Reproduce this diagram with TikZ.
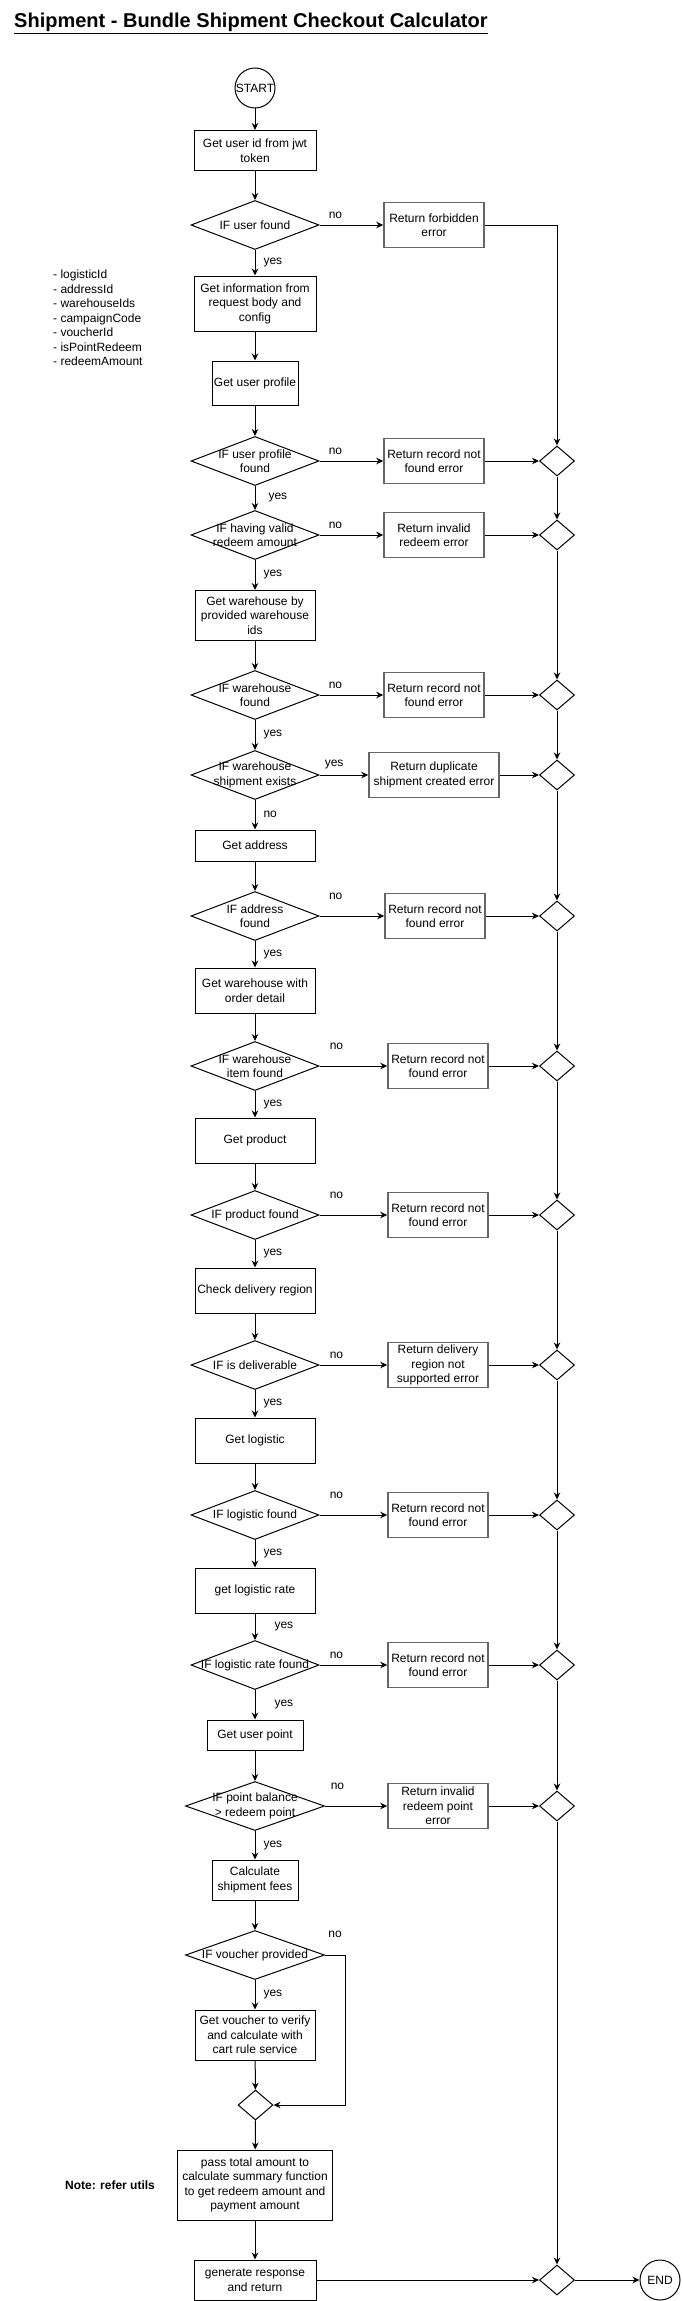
\documentclass[tikz,border=0pt]{standalone}
\usepackage{fontspec}
\setmainfont{Liberation Sans}
\usetikzlibrary{positioning,shapes.geometric,arrows.meta}

\begin{document}
\begin{tikzpicture}[
                x=1pt, y=-1pt,
                >={Stealth[length=7pt,width=6.5pt]},
                txt/.style={font=\fontsize{12}{14.5}\selectfont, align=center, inner sep=1pt},
                block/.style={txt, rectangle, draw=black, line width=1pt, minimum width=120pt, minimum height=45pt},
                errbox/.style={txt, rectangle, draw=black!60, line width=1.5pt, minimum width=100pt, minimum height=45pt},
                decision/.style={diamond, draw=black, line width=1pt, inner sep=0pt, minimum width=128pt, minimum height=49pt},
                merge/.style={diamond, draw=black, line width=1pt, inner sep=0pt, minimum width=35pt, minimum height=30pt},
                terminal/.style={txt, circle, draw=black, line width=1pt, inner sep=0pt, minimum size=40pt},
                line/.style={->, line width=1pt},
                lbl/.style={font=\fontsize{12}{14.5}\selectfont, inner sep=0pt},
                yeslbl/.style={lbl, midway, right=8pt},
                nolbl/.style={lbl, pos=0.25, above=6pt},
                every label/.style={txt}
            ]

            \useasboundingbox (0,0) rectangle (681,2301);

            %title and notes
            \node[anchor=base west, inner sep=0pt, font=\fontsize{20}{24}\selectfont\bfseries] (title) at (14,28)
                {\underline{Shipment - Bundle Shipment Checkout Calculator}};
            \node[lbl, align=left, anchor=north west] (params) at (53,270)
                {- logisticId\\- addressId\\- warehouseIds\\- campaignCode\\- voucherId\\- isPointRedeem\\- redeemAmount};
            \node[lbl, font=\fontsize{12}{14.5}\selectfont\bfseries] (note) at (110,2185) {Note: refer utils};

            %main column
            \node[terminal]     (start)       at (255,88)     {START};
            \node[block, minimum width=122pt, minimum height=40pt] (getUid) at (255,150.5) {Get user id from jwt\\token};
            \node[decision, label=center:{IF user found}] (ifUser) at (255,225) {};
            \node[block, minimum width=122pt, minimum height=55pt] (getInfo) at (255,303.5) {Get information from\\request body and\\config};
            \node[block, minimum width=86pt, minimum height=44pt] (getProfile) at (255,383) {Get user profile};
            \node[decision, label=center:{IF user profile\\found}] (ifProfile) at (255,461) {};
            \node[decision, label=center:{IF having valid\\redeem amount}] (ifRedeem) at (255,535) {};
            \node[block, minimum height=50pt] (getWh) at (255,615.5) {Get warehouse by\\provided warehouse\\ids};
            \node[decision, label=center:{IF warehouse\\found}] (ifWh) at (255,695) {};
            \node[decision, label=center:{IF warehouse\\shipment exists}] (ifExists) at (255,775) {};
            \node[block, minimum height=31pt] (getAddr) at (255,845.5) {Get address};
            \node[decision, label=center:{IF address\\found}] (ifAddr) at (255,916) {};
            \node[block] (getWhOrder) at (255,990.5) {Get warehouse with\\order detail};
            \node[decision, label=center:{IF warehouse\\item found}] (ifItem) at (255,1066) {};
            \node[block] (getProduct) at (255,1140.5) {Get product};
            \node[decision, label=center:{IF product found}] (ifProduct) at (255,1215) {};
            \node[block] (checkRegion) at (255,1290.5) {Check delivery region};
            \node[decision, label=center:{IF is deliverable}] (ifDeliver) at (255,1365) {};
            \node[block] (getLogistic) at (255,1440.5) {Get logistic};
            \node[decision, label=center:{IF logistic found}] (ifLogistic) at (255,1515) {};
            \node[block] (getRate) at (255,1590.5) {get logistic rate};
            \node[decision, label=center:{IF logistic rate found}] (ifRate) at (255,1665) {};
            \node[block, minimum width=96pt, minimum height=30pt] (getPoint) at (255,1735) {Get user point};
            \node[decision, minimum width=139pt, label=center:{IF point balance\\> redeem point}] (ifPoint) at (255,1806) {};
            \node[block, minimum width=86pt, minimum height=40pt] (calcFees) at (255,1880) {Calculate\\shipment fees};
            \node[decision, minimum width=139pt, label=center:{IF voucher provided}] (ifVoucher) at (255,1955) {};
            \node[block, minimum height=50pt] (getVoucher) at (255,2035) {Get voucher to verify\\and calculate with\\cart rule service};
            \node[merge]        (mergeV)      at (255.5,2105) {};
            \node[block, minimum width=155pt, minimum height=70pt] (passTotal) at (255,2185)
                {pass total amount to\\calculate summary function\\to get redeem amount and\\payment amount};
            \node[block, minimum width=122pt, minimum height=40pt] (genResp) at (255,2280) {generate response\\and return};

            %error returns
            \node[errbox]       (errForbid)   at (434,225)    {Return forbidden\\error};
            \node[errbox]       (errProfile)  at (434,461)    {Return record not\\found error};
            \node[errbox]       (errRedeem)   at (434,535)    {Return invalid\\redeem error};
            \node[errbox]       (errWh)       at (434,695)    {Return record not\\found error};
            \node[errbox, minimum width=130pt] (errDup) at (434,775) {Return duplicate\\shipment created error};
            \node[errbox]       (errAddr)     at (435,916)    {Return record not\\found error};
            \node[errbox]       (errItem)     at (438,1066)   {Return record not\\found error};
            \node[errbox]       (errProduct)  at (438,1215)   {Return record not\\found error};
            \node[errbox]       (errDeliver)  at (438,1365)   {Return delivery\\region not\\supported error};
            \node[errbox]       (errLogistic) at (438,1515)   {Return record not\\found error};
            \node[errbox]       (errRate)     at (438,1665)   {Return record not\\found error};
            \node[errbox]       (errPoint)    at (438,1806)   {Return invalid\\redeem point\\error};

            %merges
            \node[merge] (m1)  at (557,461)  {};
            \node[merge] (m2)  at (557,535)  {};
            \node[merge] (m3)  at (557,695)  {};
            \node[merge] (m4)  at (557,775)  {};
            \node[merge] (m5)  at (557,916)  {};
            \node[merge] (m6)  at (557,1066) {};
            \node[merge] (m7)  at (557,1215) {};
            \node[merge] (m8)  at (557,1365) {};
            \node[merge] (m9)  at (557,1515) {};
            \node[merge] (m10) at (557,1665) {};
            \node[merge] (m11) at (557,1806) {};
            \node[merge] (m12) at (557,2280) {};
            \node[terminal] (end) at (660,2280) {END};

            %main arrows
            \draw[line] (start) -- (getUid);
            \draw[line] (getUid) -- (ifUser);
            \draw[line] (ifUser) -- node[yeslbl] {yes} (getInfo);
            \draw[line] (getInfo) -- (getProfile);
            \draw[line] (getProfile) -- (ifProfile);
            \draw[line] (ifProfile) -- node[yeslbl, right=13pt] {yes} (ifRedeem);
            \draw[line] (ifRedeem) -- node[yeslbl] {yes} (getWh);
            \draw[line] (getWh) -- (ifWh);
            \draw[line] (ifWh) -- node[yeslbl] {yes} (ifExists);
            \draw[line] (ifExists) -- node[yeslbl] {no} (getAddr);
            \draw[line] (getAddr) -- (ifAddr);
            \draw[line] (ifAddr) -- node[yeslbl] {yes} (getWhOrder);
            \draw[line] (getWhOrder) -- (ifItem);
            \draw[line] (ifItem) -- node[yeslbl] {yes} (getProduct);
            \draw[line] (getProduct) -- (ifProduct);
            \draw[line] (ifProduct) -- node[yeslbl] {yes} (checkRegion);
            \draw[line] (checkRegion) -- (ifDeliver);
            \draw[line] (ifDeliver) -- node[yeslbl] {yes} (getLogistic);
            \draw[line] (getLogistic) -- (ifLogistic);
            \draw[line] (ifLogistic) -- node[yeslbl] {yes} (getRate);
            \draw[line] (getRate) -- node[yeslbl, right=19pt] {yes} (ifRate);
            \draw[line] (ifRate) -- node[yeslbl, right=19pt] {yes} (getPoint);
            \draw[line] (getPoint) -- (ifPoint);
            \draw[line] (ifPoint) -- node[yeslbl] {yes} (calcFees);
            \draw[line] (calcFees) -- (ifVoucher);
            \draw[line] (ifVoucher) -- node[yeslbl] {yes} (getVoucher);
            \draw[line] (getVoucher) -- (mergeV);
            \draw[line] (ifVoucher.east) -- node[lbl, above=17pt] {no} ++(20,0) |- (mergeV);
            \draw[line] (mergeV) -- (passTotal);
            \draw[line] (passTotal) -- (genResp);

            %no branches
            \draw[line] (ifUser) -- node[nolbl] {no} (errForbid);
            \draw[line] (ifProfile) -- node[nolbl] {no} (errProfile);
            \draw[line] (ifRedeem) -- node[nolbl] {no} (errRedeem);
            \draw[line] (ifWh) -- node[nolbl] {no} (errWh);
            \draw[line] (ifExists) -- node[nolbl, pos=0.3] {yes} (errDup);
            \draw[line] (ifAddr) -- node[nolbl, above=16pt] {no} (errAddr);
            \draw[line] (ifItem) -- node[nolbl, above=16pt] {no} (errItem);
            \draw[line] (ifProduct) -- node[nolbl, above=16pt] {no} (errProduct);
            \draw[line] (ifDeliver) -- node[nolbl] {no} (errDeliver);
            \draw[line] (ifLogistic) -- node[nolbl, above=16pt] {no} (errLogistic);
            \draw[line] (ifRate) -- node[nolbl] {no} (errRate);
            \draw[line] (ifPoint) -- node[nolbl, pos=0.2, above=16pt] {no} (errPoint);

            %right column
            \draw[line] (errForbid.east) -| (m1);
            \foreach \e/\m in {errProfile/m1, errRedeem/m2, errWh/m3, errDup/m4, errAddr/m5,
                               errItem/m6, errProduct/m7, errDeliver/m8, errLogistic/m9,
                               errRate/m10, errPoint/m11}
                \draw[line] (\e) -- (\m);
            \foreach \a/\b in {m1/m2, m2/m3, m3/m4, m4/m5, m5/m6, m6/m7, m7/m8, m8/m9,
                               m9/m10, m10/m11, m11/m12}
                \draw[line] (\a) -- (\b);
            \draw[line] (genResp) -- (m12);
            \draw[line] (m12) -- (end);

\end{tikzpicture}
\end{document}
